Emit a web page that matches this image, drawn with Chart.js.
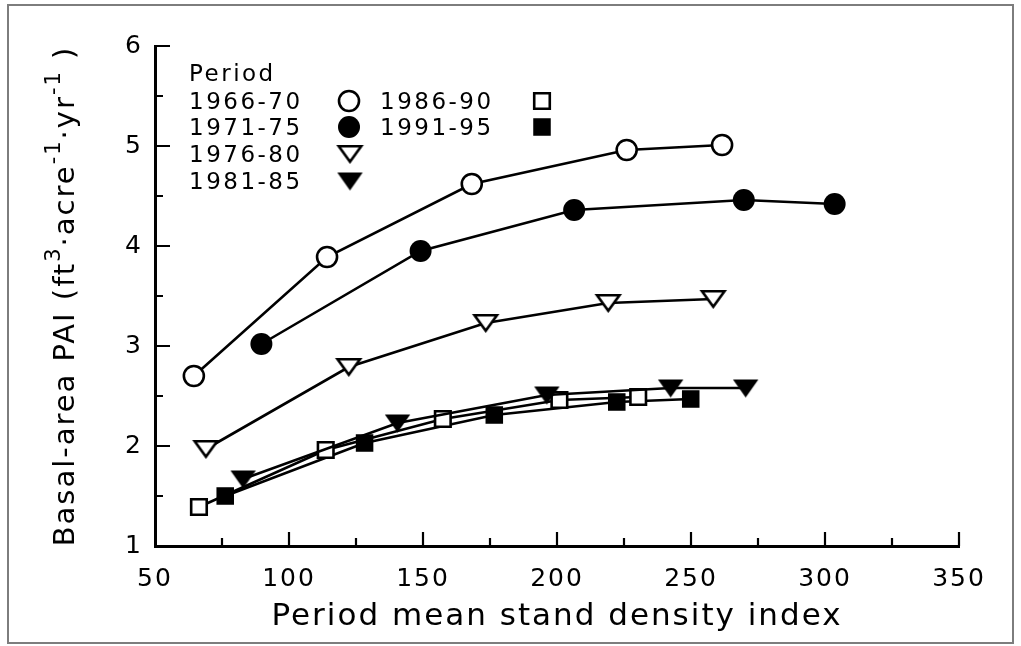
<!DOCTYPE html>
<html>
<head>
<meta charset="utf-8">
<script src="https://cdn.jsdelivr.net/npm/chart.js@4.4.1/dist/chart.umd.min.js"></script>
<style>
  html, body { margin: 0; padding: 0; background: #fff; }
  #wrap { width: 1021px; height: 646px; position: relative; }
</style>
</head>
<body>
<div id="wrap"><canvas id="paiChart" width="1021" height="646"></canvas></div>
<script>
// Tick labels
const xTickValues = [50, 100, 150, 200, 250, 300, 350];
const yTickValues = [1, 2, 3, 4, 5, 6];

// Periods (legend order)
const periods = ["1966-70", "1971-75", "1976-80", "1981-85", "1986-90", "1991-95"];

// Period mean SDI (x) and basal-area PAI (y) per period
const sdi6670 = [64.5, 114.2, 168.2, 226.0, 261.6];
const pai6670 = [2.70, 3.89, 4.62, 4.96, 5.01];

const sdi7175 = [89.7, 149.1, 206.4, 269.7, 303.6];
const pai7175 = [3.02, 3.95, 4.36, 4.46, 4.42];

const sdi7680 = [69.0, 122.3, 173.4, 219.1, 258.3];
const pai7680 = [1.97, 2.79, 3.23, 3.43, 3.47];

const sdi8185 = [82.9, 140.5, 196.2, 242.4, 270.4];
const pai8185 = [1.67, 2.23, 2.51, 2.58, 2.58];

const sdi8690 = [66.4, 113.7, 157.4, 200.9, 230.3];
const pai8690 = [1.39, 1.96, 2.27, 2.46, 2.49];

const sdi9195 = [76.2, 128.2, 176.6, 222.3, 249.9];
const pai9195 = [1.50, 2.03, 2.31, 2.44, 2.47];

const FONT = "DejaVu Sans";
const INK = "#000";

// down-pointing triangle markers
function makeTriangle(w, h, filled) {
    const c = document.createElement("canvas");
    const lw = 2.6;
    c.width = w + 4;
    c.height = h + 4;
    const g = c.getContext("2d");
    g.beginPath();
    g.moveTo(2 + lw / 2, 2 + lw / 2);
    g.lineTo(2 + w - lw / 2, 2 + lw / 2);
    g.lineTo(2 + w / 2, 2 + h - lw / 2);
    g.closePath();
    g.fillStyle = filled ? "#000" : "#fff";
    g.fill();
    g.lineWidth = lw;
    g.strokeStyle = "#000";
    g.stroke();
    return c;
}
const openTri = makeTriangle(25, 18, false);
const fullTri = makeTriangle(23, 17, true);

const markerStyles = [
    { pointStyle: "circle", radius: 10, borderWidth: 2.6, fill: "#fff" },
    { pointStyle: "circle", radius: 11, borderWidth: 0, fill: "#000" },
    { pointStyle: openTri, radius: 12, borderWidth: 0, fill: "#fff" },
    { pointStyle: fullTri, radius: 12, borderWidth: 0, fill: "#000" },
    { pointStyle: "rect", radius: 11, borderWidth: 2.6, fill: "#fff" },
    { pointStyle: "rect", radius: 12.4, borderWidth: 0, fill: "#000" }
];

function pairs(xs, ys) {
    return xs.map((x, i) => ({ x: x, y: ys[i] }));
}

const seriesData = [
    pairs(sdi6670, pai6670),
    pairs(sdi7175, pai7175),
    pairs(sdi7680, pai7680),
    pairs(sdi8185, pai8185),
    pairs(sdi8690, pai8690),
    pairs(sdi9195, pai9195)
];

const datasets = periods.map((label, i) => ({
    label: label,
    data: seriesData[i],
    showLine: true,
    borderColor: "#000",
    borderWidth: 2.6,
    pointStyle: markerStyles[i].pointStyle,
    pointRadius: markerStyles[i].radius,
    pointBorderWidth: markerStyles[i].borderWidth,
    pointBorderColor: "#000",
    pointBackgroundColor: markerStyles[i].fill,
    tension: 0
}));

// letter spacing for the wide typeset look
const spacingPlugin = {
    id: "spacing",
    beforeDraw(chart) {
        chart.ctx.letterSpacing = "2px";
    }
};

// inward major/minor tick marks + outer frame + y title + legend
const decorPlugin = {
    id: "decor",
    afterDraw(chart) {
        const ctx = chart.ctx;
        const xs = chart.scales.x;
        const ys = chart.scales.y;
        const area = chart.chartArea;

        ctx.save();
        ctx.strokeStyle = "#000";
        ctx.lineWidth = 2.2;
        ctx.beginPath();
        for (let v = 75; v <= 350; v += 25) {
            const px = Math.round(xs.getPixelForValue(v));
            const len = v % 50 === 0 ? 14 : 8;
            ctx.moveTo(px, area.bottom);
            ctx.lineTo(px, area.bottom - len);
        }
        for (let v = 1.5; v <= 6; v += 0.5) {
            const py = Math.round(ys.getPixelForValue(v));
            const len = Number.isInteger(v) ? 15 : 8;
            ctx.moveTo(area.left, py);
            ctx.lineTo(area.left + len, py);
        }
        ctx.stroke();

        // outer frame
        ctx.strokeStyle = "#7d7d7d";
        ctx.lineWidth = 2;
        ctx.strokeRect(8, 5, 1005, 638);

        // y title with superscripts
        const parts = [
            { t: "Basal-area PAI (ft", sup: false },
            { t: "3", sup: true },
            { t: "·acre", sup: false },
            { t: "-1", sup: true },
            { t: "·yr", sup: false },
            { t: "-1", sup: true },
            { t: " )", sup: false }
        ];
        const mainFont = "29px '" + FONT + "'";
        const supFont = "21px '" + FONT + "'";
        ctx.letterSpacing = "2px";
        let total = 0;
        parts.forEach(p => {
            ctx.font = p.sup ? supFont : mainFont;
            p.w = ctx.measureText(p.t).width;
            total += p.w;
        });
        ctx.translate(74, (area.top + area.bottom) / 2);
        ctx.rotate(-Math.PI / 2);
        ctx.fillStyle = INK;
        ctx.textBaseline = "alphabetic";
        ctx.textAlign = "left";
        let pos = -total / 2;
        parts.forEach(p => {
            ctx.font = p.sup ? supFont : mainFont;
            ctx.fillText(p.t, pos, p.sup ? -14 : 0);
            pos += p.w;
        });
        ctx.restore();

        // legend
        ctx.save();
        ctx.letterSpacing = "2.5px";
        ctx.font = "23px '" + FONT + "'";
        ctx.fillStyle = INK;
        ctx.textBaseline = "alphabetic";
        ctx.textAlign = "left";
        ctx.fillText("Period", 189, 81);
        const rows = [
            { text: 189, mark: 349, base: 109 },
            { text: 189, mark: 349, base: 135 },
            { text: 189, mark: 350, base: 162 },
            { text: 189, mark: 350, base: 189 },
            { text: 380, mark: 542, base: 109 },
            { text: 380, mark: 542, base: 135 }
        ];
        rows.forEach((r, i) => {
            ctx.fillStyle = INK;
            ctx.fillText(periods[i], r.text, r.base);
            const m = markerStyles[i];
            ctx.fillStyle = m.fill;
            ctx.strokeStyle = "#000";
            ctx.lineWidth = m.borderWidth;
            Chart.helpers.drawPoint(ctx, {
                pointStyle: m.pointStyle,
                radius: m.radius,
                rotation: 0,
                borderWidth: m.borderWidth
            }, r.mark, r.base - 8);
        });
        ctx.restore();
    }
};

new Chart(document.getElementById("paiChart"), {
    type: "scatter",
    data: { datasets: datasets },
    plugins: [spacingPlugin, decorPlugin],
    options: {
        responsive: false,
        animation: false,
        events: [],
        layout: { padding: { left: 0, top: 46, right: 62, bottom: 0 } },
        plugins: {
            legend: { display: false },
            tooltip: { enabled: false }
        },
        scales: {
            x: {
                type: "linear",
                min: 50,
                max: 350,
                afterBuildTicks: s => { s.ticks = xTickValues.map(v => ({ value: v })); },
                afterFit: s => { s.height = 100; },
                grid: { display: false, drawTicks: false },
                border: { display: true, color: "#000", width: 3 },
                ticks: {
                    color: INK,
                    font: { family: FONT, size: 25 },
                    padding: 18,
                    maxRotation: 0,
                    autoSkip: false
                },
                title: {
                    display: true,
                    text: "Period mean stand density index",
                    color: INK,
                    font: { family: FONT, size: 31 },
                    padding: { top: 0, bottom: 10 }
                }
            },
            y: {
                type: "linear",
                min: 1,
                max: 6,
                afterBuildTicks: s => { s.ticks = yTickValues.map(v => ({ value: v })); },
                afterFit: s => { s.width = 155; },
                grid: { display: false, drawTicks: false },
                border: { display: true, color: "#000", width: 3 },
                ticks: {
                    color: INK,
                    font: { family: FONT, size: 25 },
                    padding: 12
                }
            }
        }
    }
});
</script>
</body>
</html>
